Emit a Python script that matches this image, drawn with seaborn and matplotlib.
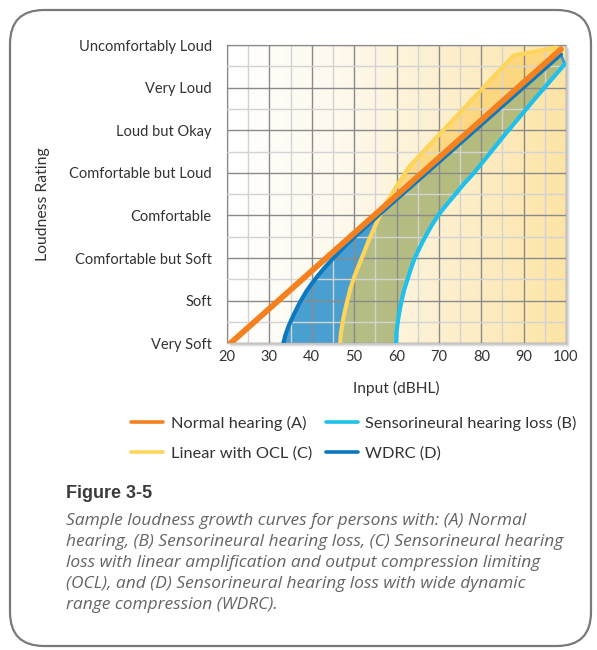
import numpy as np
import pandas as pd
import matplotlib
matplotlib.use("Agg")
import matplotlib.pyplot as plt
import seaborn as sns
from matplotlib.colors import LinearSegmentedColormap
from matplotlib.patches import FancyBboxPatch, Rectangle
from matplotlib.lines import Line2D

# ---- data -------------------------------------------------------------
rating_labels = ["Very Soft", "Soft", "Comfortable but Soft", "Comfortable",
                 "Comfortable but Loud", "Loud but Okay", "Very Loud",
                 "Uncomfortably Loud"]
input_ticks = [20, 30, 40, 50, 60, 70, 80, 90, 100]

# (A) normal hearing
normal_x = [20.8, 98.8]
normal_y = [0.0, 6.9]

# (B) sensorineural hearing loss
sni_x = [59.9, 60.0, 60.3, 60.7, 61.2, 61.8, 62.6, 63.4, 64.3, 65.5, 66.8,
         68.2, 69.8, 71.8, 73.9, 76.0, 78.3, 85.6, 92.5, 99.7]
sni_y = [0.0, 0.25, 0.5, 0.75, 1.0, 1.25, 1.5, 1.75, 2.0, 2.25, 2.5,
         2.75, 3.0, 3.25, 3.5, 3.75, 4.0, 4.9, 5.72, 6.55]

# (C) linear amplification with output compression limiting
ocl_x = [46.7, 46.9, 47.3, 47.8, 48.4, 49.1, 50.0, 50.9, 51.8, 53.6, 55.4,
         57.3, 60.1, 63.2, 87.6, 97.6]
ocl_y = [0.0, 0.25, 0.5, 0.75, 1.0, 1.28, 1.55, 1.78, 2.0, 2.45, 2.85,
         3.25, 3.7, 4.17, 6.75, 6.94]

# (D) wide dynamic range compression
wdrc_x = [33.3, 33.8, 34.6, 35.7, 37.2, 38.6, 40.0, 41.4, 42.9, 45.1, 47.5,
          50.0, 53.0, 56.0, 67.1, 78.5, 98.8]
wdrc_y = [0.0, 0.2, 0.42, 0.66, 0.96, 1.2, 1.4, 1.58, 1.76, 2.0, 2.25,
          2.49, 2.76, 3.03, 4.0, 5.0, 6.78]

# ---- style ------------------------------------------------------------
c_normal = "#f4811f"
c_sni = "#1fc0ec"
c_ocl = "#fdd45c"
c_wdrc = "#0b78bf"
fill_blue = "#2a8fcc"
fill_olive = "#a8b373"
fill_yellow = "#fdd475"
text_col = "#333333"

sns.set_theme(style="white")
plt.rcParams["font.family"] = ["Lato", "DejaVu Sans"]

W, H = 597, 650
fig = plt.figure(figsize=(W / 100, H / 100), dpi=100)
fig.patch.set_facecolor("white")

L, R, T, B = 227, 566, 45, 343.3
ax = fig.add_axes([L / W, 1 - B / H, (R - L) / W, (B - T) / H])

# soft drop shadow behind the plot area
for off, a in [(4, 0.10), (3, 0.14), (2, 0.18)]:
    fig.patches.append(Rectangle((L + off, H - B - off), R - L, B - T,
                                 transform=None, facecolor="#808080",
                                 alpha=a, edgecolor="none", zorder=-2))

# warm horizontal gradient background
bg = LinearSegmentedColormap.from_list(
    "warm", ["#ffffff", "#fef9ec", "#fdefcc", "#fde4a6"])
ax.imshow(np.linspace(0, 1, 256)[None, :], cmap=bg, aspect="auto",
          extent=[20, 100, 0, 7], origin="lower", zorder=0)

ax.set_xlim(20, 100)
ax.set_ylim(0, 7)
ax.set_xticks(input_ticks)
ax.set_xticks(np.arange(25, 100, 10), minor=True)
ax.set_yticks(range(len(rating_labels)))
ax.set_yticks(np.arange(0.5, 7, 1.0), minor=True)
ax.set_yticklabels(rating_labels)
ax.set_xticklabels([str(t) for t in input_ticks])
ax.grid(which="minor", color="#d3d3d3", lw=1.0, zorder=1)
ax.grid(which="major", color="#8a8a8a", lw=1.0, zorder=1)
ax.set_axisbelow(False)
for s in ax.spines.values():
    s.set_color("#c4c4c4")
    s.set_linewidth(1.0)
ax.tick_params(axis="both", which="both", length=0, labelsize=10.5,
               labelcolor=text_col)
ax.tick_params(axis="y", pad=11)
ax.tick_params(axis="x", pad=5)

# ---- shaded bands between the curves ------------------------------------
yy = np.linspace(0, 7, 2801)
xB_e = np.interp(yy, sni_y + [wdrc_y[-1]], sni_x + [wdrc_x[-1]],
                 left=np.nan, right=np.nan)
xC = np.interp(yy, ocl_y, ocl_x, left=np.nan, right=np.nan)
xD = np.interp(yy, wdrc_y, wdrc_x, left=np.nan, right=np.nan)
xD_e = np.interp(yy, wdrc_y + [ocl_y[-1]], wdrc_x + [ocl_x[-1]],
                 left=np.nan, right=np.nan)
with np.errstate(invalid="ignore"):
    m_blue = xD < xC
    m_yel = xC < xD_e
    left_olive = np.fmax(xC, xD)
    left_olive[np.isnan(xD)] = np.nan
    m_olive = xB_e > left_olive
ax.fill_betweenx(yy, xD, xC, where=m_blue, interpolate=True,
                 color=fill_blue, alpha=0.85, lw=0, zorder=2)
ax.fill_betweenx(yy, xC, xD_e, where=m_yel, interpolate=True,
                 color=fill_yellow, alpha=0.85, lw=0, zorder=2)
ax.fill_betweenx(yy, left_olive, xB_e, where=m_olive, interpolate=True,
                 color=fill_olive, alpha=0.85, lw=0, zorder=2)
ax.plot([wdrc_x[-1], sni_x[-1]], [wdrc_y[-1], sni_y[-1]],
        color="#3d97cf", lw=2, zorder=3)

# ---- curves -------------------------------------------------------------
curve_kw = dict(sort=False, estimator=None, ax=ax, legend=False,
                solid_capstyle="round", solid_joinstyle="round")
sns.lineplot(x=sni_x, y=sni_y, color=c_sni, linewidth=3.0, zorder=4, **curve_kw)
sns.lineplot(x=ocl_x, y=ocl_y, color=c_ocl, linewidth=3.0, zorder=4, **curve_kw)
sns.lineplot(x=wdrc_x, y=wdrc_y, color=c_wdrc, linewidth=3.0, zorder=5, **curve_kw)
sns.lineplot(x=normal_x, y=normal_y, color=c_normal, linewidth=4.2, zorder=6, **curve_kw)
ax.set_xlabel("")
ax.set_ylabel("")

fig.text(43 / W, 1 - 204 / H, "Loudness Rating", rotation=90, ha="center",
         va="center", fontsize=11.3, color=text_col)
fig.text((L + R) / 2 / W, 1 - 388 / H, "Input (dBHL)", ha="center",
         va="center", fontsize=11.2, color=text_col)

# ---- legend -------------------------------------------------------------
handles = [Line2D([], [], color=c_normal, lw=2.6),
           Line2D([], [], color=c_ocl, lw=2.6),
           Line2D([], [], color=c_sni, lw=2.6),
           Line2D([], [], color=c_wdrc, lw=2.6)]
labels = ["Normal hearing (A)", "Linear with OCL (C)",
          "Sensorineural hearing loss (B)", "WDRC (D)"]
fig.legend(handles, labels, ncol=2, loc="center",
           bbox_to_anchor=(354 / W, 1 - 438 / H), frameon=False,
           fontsize=11.8, handlelength=1.95, handletextpad=0.45,
           columnspacing=0.85, labelspacing=0.95, labelcolor=text_col)

# ---- caption ------------------------------------------------------------
fig.text(66 / W, 1 - 494 / H, "Figure 3-5", ha="left", va="center",
         fontsize=13, fontweight="bold", color="#3a3a3a",
         family=["Liberation Sans", "DejaVu Sans"])
caption = ["Sample loudness growth curves for persons with: (A) Normal",
           "hearing, (B) Sensorineural hearing loss, (C) Sensorineural hearing",
           "loss with linear amplification and output compression limiting",
           "(OCL), and (D) Sensorineural hearing loss with wide dynamic",
           "range compression (WDRC)."]
for i, line in enumerate(caption):
    fig.text(66 / W, 1 - (521 + 21 * i) / H, line, ha="left", va="center",
             fontsize=12.5, fontstyle="italic", color="#646464",
             family=["Open Sans", "DejaVu Sans"])

# rounded frame around the whole figure
fig.patches.append(FancyBboxPatch((10, 4), 581, 636, transform=None,
                                  boxstyle="round,pad=0,rounding_size=34",
                                  facecolor="none", edgecolor="#7a7a7a",
                                  linewidth=1.6, zorder=10))

fig.savefig("out.png", dpi=100)
